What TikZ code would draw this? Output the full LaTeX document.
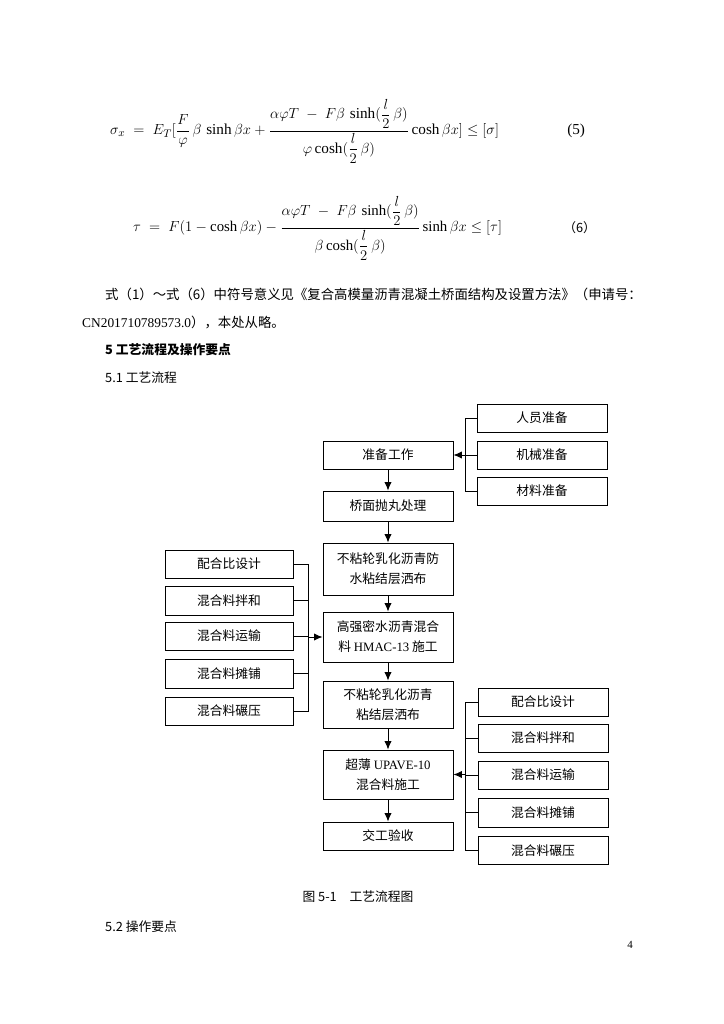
\documentclass[tikz,border=0pt]{standalone}
\usepackage{amsmath}
\usepackage{fontspec}
\setmainfont{Liberation Serif}
\newfontfamily\cjk{Noto Sans CJK SC}
\newfontfamily\lat{Liberation Serif}
\usetikzlibrary{arrows.meta}
\begin{document}
\begin{tikzpicture}[x=0.8222pt,y=-0.8222pt,
  every node/.style={inner sep=0pt},
  txt/.style={anchor=west,font=\cjk\fontsize{10.5}{13}\selectfont},
  box/.style={draw,line width=0.75pt,align=center,minimum width=106.9pt,
    font=\cjk\fontsize{10.5}{16.4}\selectfont},
  lbox/.style={box,minimum width=105.2pt},
  link/.style={line width=0.75pt},
  arr/.style={line width=0.75pt,-{Latex[length=7pt,width=6pt]}},
  eq/.style={anchor=west,font=\fontsize{12.5}{14}\selectfont}]
\useasboundingbox[fill=white] (0,0) rectangle (724,1024);

% formulas
\node[eq] (f5) at (110,131)
  {$\displaystyle \sigma_x \;=\; E_T[\frac{F}{\varphi}\,\beta\,\sinh\beta x+\frac{\alpha\varphi T\;-\;F\beta\,\sinh(\dfrac{l}{2}\,\beta)}{\varphi\cosh(\dfrac{l}{2}\,\beta)}\cosh\beta x]\le[\sigma]$};
\node[eq] (n5) at (567,131) {(5)};
\node[eq,font=\fontsize{12.2}{14}\selectfont] (f6) at (133,228)
  {$\displaystyle \tau \;=\; F(1-\cosh\beta x)-\frac{\alpha\varphi T\;-\;F\beta\,\sinh(\dfrac{l}{2}\,\beta)}{\beta\cosh(\dfrac{l}{2}\,\beta)}\sinh\beta x\le[\tau]$};
\node[txt] (n6) at (563,228) {（6）};

% text
\node[txt,font=\cjk\fontsize{11}{13}\selectfont] (t1) at (105,294) {式（1）～式（6）中符号意义见《复合高模量沥青混凝土桥面结构及设置方法》（申请号：};
\node[txt,font=\cjk\fontsize{11}{13}\selectfont] (t2) at (82,322) {{\lat CN201710789573.0}），本处从略。};
\node[txt,font=\cjk\bfseries\fontsize{10.5}{13}\selectfont] (h5) at (105,350) {5 工艺流程及操作要点};
\node[txt] (h51) at (105,378) {5.1 工艺流程};
\node[txt,anchor=center] (cap) at (358,897) {图 5-1\quad 工艺流程图};
\node[txt] (h52) at (105,927) {5.2 操作要点};
\node[anchor=center,font=\fontsize{9}{11}\selectfont] (pg) at (630,945) {4};

% central column
\node[box,minimum height=23.0pt] (p1) at (388,455) {准备工作};
\node[box,minimum height=24.7pt] (p2) at (388,506) {桥面抛丸处理};
\node[box,minimum height=42.8pt] (p3) at (388,569) {不粘轮乳化沥青防\\水粘结层洒布};
\node[box,minimum height=41.1pt] (p4) at (388,637) {高强密水沥青混合\\料 {\lat HMAC-13} 施工};
\node[box,minimum height=38.6pt] (p5) at (388,704.5) {不粘轮乳化沥青\\粘结层洒布};
\node[box,minimum height=40.3pt] (p6) at (388,774.5) {超薄 {\lat UPAVE-10}\\混合料施工};
\node[box,minimum height=23.0pt] (p7) at (388,836) {交工验收};

% right top
\node[box,minimum height=23.0pt] (r1) at (542,418) {人员准备};
\node[box,minimum height=23.0pt] (r2) at (542,455) {机械准备};
\node[box,minimum height=23.0pt] (r3) at (542,491) {材料准备};

% left
\node[lbox,minimum height=23.0pt] (l1) at (229,564) {配合比设计};
\node[lbox,minimum height=23.8pt] (l2) at (229,600.5) {混合料拌和};
\node[lbox,minimum height=23.0pt] (l3) at (229,636) {混合料运输};
\node[lbox,minimum height=23.8pt] (l4) at (229,673.5) {混合料摊铺};
\node[lbox,minimum height=23.0pt] (l5) at (229,711) {混合料碾压};

% right bottom
\node[box,minimum height=23.0pt] (s1) at (543,702) {配合比设计};
\node[box,minimum height=23.0pt] (s2) at (543,738) {混合料拌和};
\node[box,minimum height=23.0pt] (s3) at (543,775) {混合料运输};
\node[box,minimum height=23.8pt] (s4) at (543,812.5) {混合料摊铺};
\node[box,minimum height=23.0pt] (s5) at (543,850.5) {混合料碾压};

% bracket junctions
\coordinate (jt) at (465,455);
\coordinate (jl) at (308,637);
\coordinate (jb) at (465,774.5);

% vertical flow
\draw[arr] (p1) -- (p2);
\draw[arr] (p2) -- (p3);
\draw[arr] (p3) -- (p4);
\draw[arr] (p4) -- (p5);
\draw[arr] (p5) -- (p6);
\draw[arr] (p6) -- (p7);

% top-right bracket
\draw[link] (r1.west) -| (jt);
\draw[link] (r3.west) -| (jt);
\draw[link] (r2.west) -- (jt);
\draw[arr] (jt) -- (p1.east);

% left bracket
\draw[link] (l1.east) -| (jl);
\draw[link] (l5.east) -| (jl);
\draw[link] (l2.east) -- (l2.east -| jl);
\draw[link] (l3.east) -- (l3.east -| jl);
\draw[link] (l4.east) -- (l4.east -| jl);
\draw[arr] (jl) -- (p4.west);

% bottom-right bracket
\draw[link] (s1.west) -| (jb);
\draw[link] (s5.west) -| (jb);
\draw[link] (s2.west) -- (s2.west -| jb);
\draw[link] (s3.west) -- (s3.west -| jb);
\draw[link] (s4.west) -- (s4.west -| jb);
\draw[arr] (jb) -- (p6.east);
\end{tikzpicture}
\end{document}
